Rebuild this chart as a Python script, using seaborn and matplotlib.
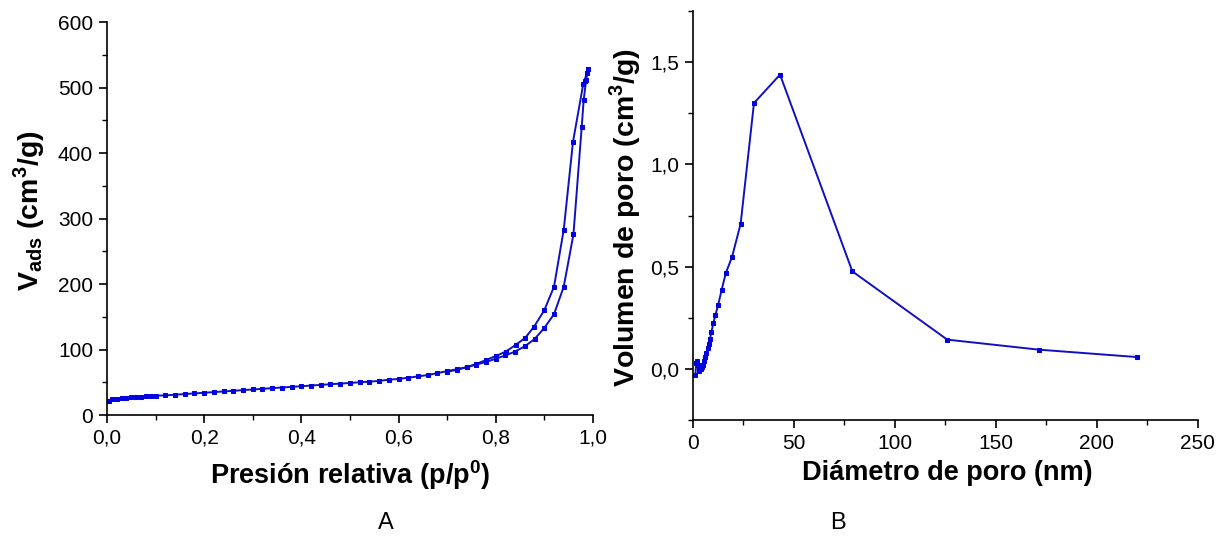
import numpy as np
import pandas as pd
import matplotlib
matplotlib.use("Agg")
import matplotlib.pyplot as plt
from matplotlib.ticker import MultipleLocator, FuncFormatter
import seaborn as sns

# isoterma: rama de adsorcion
p_ads = [0.005, 0.01, 0.02, 0.03, 0.04, 0.05, 0.06, 0.07, 0.08, 0.09, 0.10, 0.12, 0.14, 0.16,
         0.18, 0.20, 0.22, 0.24, 0.26, 0.28, 0.30, 0.32, 0.34, 0.36, 0.38, 0.40, 0.42, 0.44,
         0.46, 0.48, 0.50, 0.52, 0.54, 0.56, 0.58, 0.60, 0.62, 0.64, 0.66, 0.68, 0.70, 0.72,
         0.74, 0.76, 0.78, 0.80, 0.82, 0.84, 0.86, 0.88, 0.90, 0.92, 0.94, 0.96, 0.977, 0.981,
         0.986, 0.990]
v_ads = [22, 24, 25, 26, 26.5, 27, 27.5, 28, 28.5, 29, 29.5, 30, 31, 32,
         33, 34, 35, 36, 37, 38, 39, 40, 41, 42, 43, 44, 45, 46,
         47, 48, 49, 50, 51, 52, 54, 55, 57, 59, 61, 64, 67, 70,
         73, 77, 81, 86, 91, 97, 105, 116, 133, 154, 196, 276, 440, 481,
         511, 528]

# rama de desorcion
p_des = [0.990, 0.987, 0.983, 0.980, 0.959, 0.940, 0.920, 0.900, 0.879, 0.861, 0.841, 0.821,
         0.80, 0.78, 0.76, 0.74, 0.72, 0.70]
v_des = [529, 522, 510, 505, 417, 283, 196, 160, 135, 118, 107, 97,
         90, 84, 78, 73, 69, 66]

# distribucion de tamano de poro
d_poro = [1.2, 1.6, 2.0, 2.4, 2.8, 3.2, 3.6, 4.0, 4.4, 4.9, 5.4, 6.0, 6.6, 7.2, 7.8, 8.4,
          9.1, 10.1, 11.1, 12.5, 14.2, 16.3, 19.3, 23.6, 30.2, 43.1, 78.9, 125.9, 171.3, 219.6]
v_poro = [-0.03, 0.03, 0.04, 0.02, -0.01, 0.0, 0.01, 0.0, 0.01, 0.02, 0.04, 0.06, 0.08, 0.10,
          0.12, 0.146, 0.18, 0.224, 0.263, 0.314, 0.387, 0.47, 0.546, 0.71, 1.30, 1.439, 0.477,
          0.143, 0.094, 0.058]

sns.set_style("ticks")
plt.rcParams["font.family"] = ["Liberation Sans", "DejaVu Sans"]
plt.rcParams["mathtext.fontset"] = "custom"
plt.rcParams["mathtext.rm"] = "Liberation Sans"
plt.rcParams["mathtext.bf"] = "Liberation Sans:bold"
plt.rcParams["axes.linewidth"] = 1.2
for k in ["text.color", "axes.labelcolor", "xtick.color", "ytick.color", "axes.edgecolor"]:
    plt.rcParams[k] = "black"

line_c = "#1010c0"
mark_c = "#0000e0"

fig = plt.figure(figsize=(12.25, 5.36), dpi=100)
ax1 = fig.add_axes([0.0873, 0.2257, 0.3967, 0.733])
ax2 = fig.add_axes([0.5657, 0.2164, 0.4122, 0.763])

for px, pv in [(p_ads, v_ads), (p_des, v_des)]:
    sns.lineplot(x=px, y=pv, ax=ax1, sort=False, color=line_c, lw=1.4, marker="s",
                 markersize=3.5, markerfacecolor=mark_c, markeredgecolor=mark_c)
sns.lineplot(x=d_poro, y=v_poro, ax=ax2, sort=False, color=line_c, lw=1.4, marker="s",
             markersize=3.5, markerfacecolor=mark_c, markeredgecolor=mark_c)

coma = FuncFormatter(lambda v, pos: f"{v:.1f}".replace(".", ","))

ax1.set_xlim(0, 1.0)
ax1.set_ylim(0, 600)
ax1.xaxis.set_major_locator(MultipleLocator(0.2))
ax1.xaxis.set_minor_locator(MultipleLocator(0.1))
ax1.yaxis.set_major_locator(MultipleLocator(100))
ax1.yaxis.set_minor_locator(MultipleLocator(50))
ax1.xaxis.set_major_formatter(coma)
ax1.set_xlabel(r"Presión relativa (p/p$^{\mathbf{0}}$)", fontsize=19.5, fontweight="bold")
ax1.set_ylabel(r"$\mathbf{V_{ads}}$ (cm$^{\mathbf{3}}$/g)", fontsize=20.5, fontweight="bold")
ax1.xaxis.set_label_coords(0.5, -0.11)
ax1.yaxis.set_label_coords(-0.123, 0.52)

ax2.set_xlim(0, 250)
ax2.set_ylim(-0.25, 1.75)
ax2.xaxis.set_major_locator(MultipleLocator(50))
ax2.xaxis.set_minor_locator(MultipleLocator(25))
ax2.yaxis.set_major_locator(MultipleLocator(0.5))
ax2.yaxis.set_minor_locator(MultipleLocator(0.25))
ax2.yaxis.set_major_formatter(coma)
ax2.set_xlabel("Diámetro de poro (nm)", fontsize=19.5, fontweight="bold")
ax2.set_ylabel(r"Volumen de poro (cm$^{\mathbf{3}}$/g)", fontsize=20.5, fontweight="bold")
ax2.xaxis.set_label_coords(0.503, -0.098)
ax2.yaxis.set_label_coords(-0.099, 0.494)

for ax in (ax1, ax2):
    sns.despine(ax=ax)
    ax.tick_params(which="major", direction="out", length=6, width=1.2, labelsize=15, pad=4)
    ax.tick_params(which="minor", direction="out", length=3.5, width=1.0)

fig.text(386 / 1225, 1 - 523 / 536, "A", fontsize=17, ha="center", va="center")
fig.text(838 / 1225, 1 - 523 / 536, "B", fontsize=17, ha="center", va="center")

fig.savefig("out.png", dpi=100)
